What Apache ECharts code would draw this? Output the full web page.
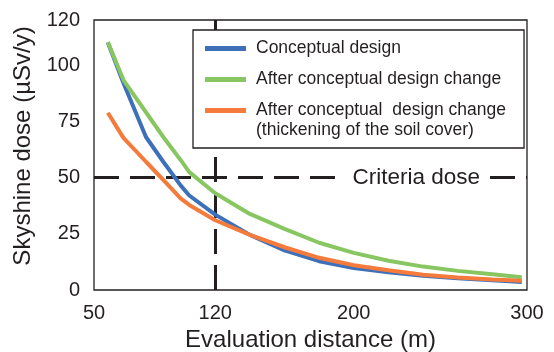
<!DOCTYPE html>
<html>
<head>
<meta charset="utf-8">
<script src="https://cdn.jsdelivr.net/npm/echarts@6/dist/echarts.min.js"></script>
<style>
html, body { margin: 0; padding: 0; background: #fff; }
#chart { width: 554px; height: 352px; }
</style>
</head>
<body>
<div id="chart"></div>
<script>
// distances (m) and doses (uSv/y)
var distance   = [58, 67, 80, 90, 100, 105, 120, 140, 160, 180, 200, 220, 240, 260, 280, 297];
var conceptual = [110, 92, 68, 57, 46.5, 42, 33.5, 24.5, 17.6, 12.8, 9.8, 7.9, 6.3, 5.2, 4.3, 3.6];
var afterChange = [110.2, 93.3, 79, 68, 57.8, 52.4, 43, 33.8, 27.2, 21, 16.5, 13, 10.4, 8.5, 7, 5.7];
var thickCover = [78.8, 67.6, 57, 48.9, 40.7, 37.8, 31, 24.5, 19, 14.3, 11, 8.8, 6.8, 5.6, 4.7, 4.1];

var xTicks = [50, 120, 200, 300];
var yTicks = [0, 25, 50, 75, 100, 120];
var criteriaDose = 50;
var evalDistance = 120;

var names = ['Conceptual design', 'After conceptual design change', 'After conceptual  design change'];
var colors = ['#3e70ba', '#88c662', '#f47b3b'];

var font = 'Liberation Sans';
var ink = '#231f20';

function pairs(ys) {
    return distance.map(function (d, i) { return [d, ys[i]]; });
}

var chart = echarts.init(document.getElementById('chart'));

var dash = [25, 11];

var option = {
    animation: false,
    textStyle: { fontFamily: font, color: ink },
    grid: {
        left: 94, right: 27, top: 20, bottom: 62,
        show: true, borderColor: ink, borderWidth: 1.3,
        outerBoundsMode: 'none',
        containLabel: false
    },
    legend: {
        orient: 'vertical',
        left: 193, top: 30,
        padding: [7, 18, 26, 12],
        itemGap: 8,
        itemWidth: 41, itemHeight: 5,
        icon: 'rect',
        backgroundColor: '#fff',
        borderColor: ink, borderWidth: 1.3,
        textStyle: { fontSize: 17.5, color: ink, lineHeight: 23, padding: [0, 0, 0, 5] },
        data: names
    },
    graphic: [{
        type: 'text',
        left: 256, top: 121,
        z: 10,
        style: { text: '(thickening of the soil cover)', font: '17.5px "Liberation Sans"', fill: ink }
    }],
    xAxis: {
        type: 'value', min: 50, max: 300,
        name: 'Evaluation distance (m)', nameLocation: 'middle', nameGap: 38,
        nameTextStyle: { fontSize: 24, color: ink },
        axisLine: { show: false }, axisTick: { show: false }, splitLine: { show: false },
        axisLabel: { customValues: xTicks, fontSize: 20, color: ink, margin: 13 }
    },
    yAxis: {
        type: 'value', min: 0, max: 120,
        name: 'Skyshine dose (\u00b5Sv/y)', nameLocation: 'middle', nameGap: 54,
        nameTextStyle: { fontSize: 24, color: ink, padding: [0, 0, 0, 18] },
        axisLine: { show: false }, axisTick: { show: false }, splitLine: { show: false },
        axisLabel: { customValues: yTicks, fontSize: 20, color: ink, margin: 14 }
    },
    series: [
        {
            name: names[0], type: 'line', data: pairs(conceptual),
            showSymbol: false, color: colors[0], lineStyle: { width: 4 },
            markLine: {
                silent: true, symbol: 'none', z: 1,
                lineStyle: { color: ink, type: dash, width: 3 },
                data: [
                    {
                        yAxis: criteriaDose,
                        label: {
                            show: true, formatter: 'Criteria dose', position: 'insideEnd',
                            distance: 37, fontSize: 22.5, color: ink, fontFamily: font,
                            backgroundColor: '#fff', padding: [2, 10, 2, 12]
                        }
                    },
                    { xAxis: evalDistance, label: { show: false } }
                ]
            }
        },
        {
            name: names[1], type: 'line', data: pairs(afterChange),
            showSymbol: false, color: colors[1], lineStyle: { width: 4 }
        },
        {
            name: names[2], type: 'line', data: pairs(thickCover),
            showSymbol: false, color: colors[2], lineStyle: { width: 4 }
        }
    ]
};

chart.setOption(option);
</script>
</body>
</html>
